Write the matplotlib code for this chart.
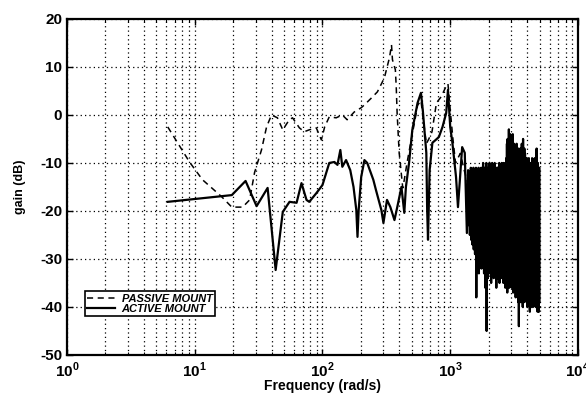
import numpy as np
import matplotlib
matplotlib.use("Agg")
import matplotlib.pyplot as plt
from matplotlib.ticker import FixedLocator, FixedFormatter, LogLocator, NullFormatter

plt.rcParams['font.family'] = ['Liberation Sans', 'DejaVu Sans']
plt.rcParams['mathtext.fontset'] = 'custom'
plt.rcParams['mathtext.rm'] = 'Liberation Sans:bold'
plt.rcParams['mathtext.bf'] = 'Liberation Sans:bold'
plt.rcParams['axes.unicode_minus'] = False

# ---- data ----
passive_freq = [6.15, 9.1, 11.5, 16.2, 19.5, 23.7, 26.9, 29.4, 33.3, 36.5, 39.9, 44.4,
                48.9, 55, 58.3, 66, 72, 78.8, 89.5, 98, 104, 113, 128, 143, 156, 177,
                201, 213, 241, 269, 305, 335, 347, 353, 372, 378, 384, 398, 415, 425,
                437, 459, 495, 530, 555, 590, 650, 680, 720, 780, 850, 930, 960, 1000,
                1050, 1100, 1200, 1300, 1400]
passive_db = [-2.5, -9.8, -13.5, -17, -19.2, -19.2, -17.7, -12, -7.3, -2.5, 0, -0.6,
              -3.1, -1, -0.6, -2.7, -3.5, -3.1, -2.7, -5.2, -2.5, -0.4, -0.6, 0, -1, 0.6,
              1.5, 2.1, 3.5, 4.8, 7.7, 12, 14.6, 11.5, 9.4, 5.8, 0.4, -7.7, -12.5, -15.2,
              -13.5, -10, -5.2, -1, 2, 3, -6, -5, -3.5, 2.5, 3.8, 6, 6.5, 1,
              -5, -10, -8, -12, -15]

active_freq_low = [6.15, 19.5, 25, 30.5, 37.2, 43, 48.9, 55.2, 62.7, 68.5, 75, 78.8,
                   89.5, 100, 113, 124, 131, 138, 143, 153, 165, 175, 184, 188, 192,
                   201, 213, 224, 235, 250, 262, 289, 300, 320, 340, 366, 385, 415,
                   437, 450, 476, 505, 555, 590, 610, 650, 660, 670, 690, 725, 770,
                   815, 870, 930, 960, 1000, 1040, 1110, 1150, 1190, 1240, 1300, 1350,
                   1380]
active_db_low = [-18.1, -16.7, -13.75, -19, -15.2, -32.3, -20.2, -18.1, -18.3, -14.2,
                 -17.7, -18.1, -16.3, -14.6, -10, -9.8, -10.4, -7.3, -10.8, -9.4, -11.5,
                 -15, -19.8, -25.4, -19.8, -12.9, -9.4, -10, -11.5, -13.5, -15.6, -19.8,
                 -22.5, -17.7, -19.2, -21.9, -19.2, -15, -20.4, -15, -10, -3.1, 2.5, 4.6,
                 1, -7.9, -19.8, -26, -11.5, -5.8, -5.2, -4.6, -2.5, 0.4, 5.2, -2.5, -5.8,
                 -12.9, -19.2, -13.5, -6.7, -7.9, -24.6, -11.5]

# high-frequency noisy part of the active response
active_db_high = [
    -13, -23, -12, -25, -14, -22, -11, -26, -13, -24, -12, -27, -14, -25, -11, -28, -13, -26, -12, -29,
    -14, -27, -11, -38, -13, -26, -12, -31, -14, -28, -11, -33, -13, -30, -12, -30, -14, -27, -11, -32,
    -13, -29, -12, -31, -10, -28, -13, -33, -11, -30, -12, -36, -14, -29, -10, -45, -12, -30, -13, -34,
    -11, -31, -12, -28, -10, -33, -13, -30, -11, -35, -12, -29, -10, -32, -13, -31, -11, -34, -12, -30,
    -10, -33, -12, -31, -11, -36, -13, -30, -11, -34, -11, -32, -12, -31, -10, -35, -12, -30, -11, -33,
    -12, -32, -10, -34, -11, -31, -12, -35, -10, -33, -11, -32, -12, -36, -10, -34, -9, -33, -6, -37,
    -5, -34, -7, -35, -3, -36, -6, -33, -4, -35, -8, -34, -5, -36, -7, -34, -4, -37, -8, -35,
    -6, -36, -9, -34, -7, -38, -8, -35, -6, -37, -9, -36, -8, -39, -7, -44, -9, -38, -8, -36,
    -7, -39, -9, -37, -6, -38, -8, -40, -5, -36, -9, -39, -7, -37, -8, -38, -10, -38, -9, -39,
    -10, -40, -11, -37, -10, -39, -9, -38, -10, -41, -11, -37, -10, -40, -11, -38, -9, -39, -11, -40,
    -10, -38, -11, -39, -9, -39, -11, -40, -10, -38, -7, -39, -11, -41, -10, -40, -12, -41, -11, -39,
]
active_freq_high = np.geomspace(1400, 5000, len(active_db_high))

active_freq = np.concatenate([active_freq_low, active_freq_high])
active_db = np.concatenate([active_db_low, active_db_high])

x_tick_vals = [1, 10, 100, 1000, 10000]
x_tick_labels = [r'$10^{0}$', r'$10^{1}$', r'$10^{2}$', r'$10^{3}$', r'$10^{4}$']
y_tick_vals = [-50, -40, -30, -20, -10, 0, 10, 20]

# ---- plot ----
fig = plt.figure(figsize=(5.86, 3.94), dpi=100)
ax = fig.add_axes([0.1143, 0.099, 0.872, 0.853])

ax.semilogx(passive_freq, passive_db, color='black', linestyle=(0, (4, 3)),
            linewidth=1.1, label='PASSIVE MOUNT')
ax.semilogx(active_freq, active_db, color='black', linestyle='-',
            linewidth=1.6, label='ACTIVE MOUNT')

ax.set_xlim(1, 10000)
ax.set_ylim(-50, 20)

ax.xaxis.set_major_locator(FixedLocator(x_tick_vals))
ax.xaxis.set_major_formatter(FixedFormatter(x_tick_labels))
ax.xaxis.set_minor_locator(LogLocator(base=10, subs=np.arange(2, 10), numticks=20))
ax.xaxis.set_minor_formatter(NullFormatter())
ax.yaxis.set_major_locator(FixedLocator(y_tick_vals))

ax.grid(True, which='major', axis='both', color='black', linestyle=(0, (1, 2.5)), linewidth=0.9)
ax.grid(True, which='minor', axis='x', color='black', linestyle=(0, (1, 2.5)), linewidth=0.9)

ax.tick_params(axis='both', which='both', direction='in', top=True, right=True)
ax.tick_params(axis='both', which='major', length=4, width=1.0, labelsize=11)
ax.tick_params(axis='both', which='minor', length=2, width=0.8)
for lab in ax.get_yticklabels():
    lab.set_fontweight('bold')
ax.tick_params(axis='x', pad=4)

for sp in ax.spines.values():
    sp.set_linewidth(1.6)

ax.set_xlabel('Frequency (rad/s)', fontsize=10, fontweight='bold', va='center')
ax.xaxis.set_label_coords(0.5, -0.093)
ax.set_ylabel('gain (dB)', fontsize=9, fontweight='bold', labelpad=10)

leg = ax.legend(loc='lower left', bbox_to_anchor=(0.035, 0.115),
                prop={'weight': 'bold', 'style': 'italic', 'size': 8},
                frameon=True, fancybox=False, edgecolor='black', framealpha=1,
                borderpad=0.2, labelspacing=0.05, handlelength=2.5, handletextpad=0.6,
                borderaxespad=0)
leg.get_frame().set_linewidth(1.2)

fig.savefig('out.png', dpi=100)
